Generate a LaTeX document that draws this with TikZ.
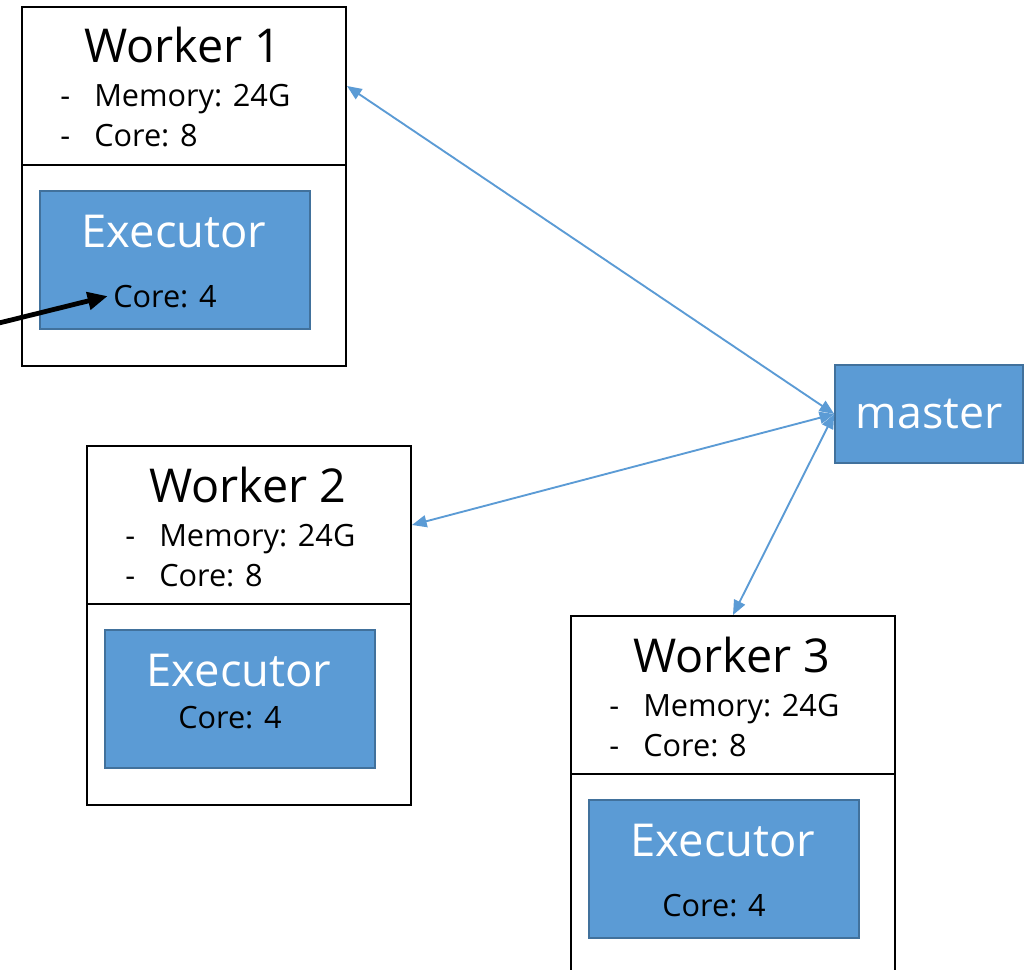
\documentclass[tikz,border=0pt]{standalone}
\usepackage{fontspec}
\setmainfont{Open Sans}
\usetikzlibrary{arrows.meta}
\definecolor{exfill}{HTML}{5B9BD5}
\definecolor{exline}{HTML}{41719C}
\definecolor{link}{HTML}{5B9BD5}
\tikzset{
  wpart/.style={draw=black, line width=1.5pt, fill=white, rectangle, inner sep=0pt, minimum width={324*0.75pt}},
  wtop/.style={wpart, minimum height={158*0.75pt}},
  wbot/.style={wpart, minimum height={201*0.75pt}},
  execbox/.style={draw=exline, line width=1.2pt, fill=exfill, rectangle, inner sep=0pt, minimum width={270*0.75pt}, minimum height={138*0.75pt}},
  titletext/.style={inner sep=0pt, font=\fontsize{35}{40}\selectfont},
  infotext/.style={inner sep=0pt, font=\fontsize{23}{28}\selectfont},
  exectext/.style={inner sep=0pt, text=white, font=\fontsize{34}{40}\selectfont},
  coretext/.style={inner sep=0pt, font=\fontsize{23}{28}\selectfont},
  masterbox/.style={draw=exline, line width=1.2pt, fill=exfill, rectangle, inner sep=0pt, minimum width={188*0.75pt}, minimum height={98*0.75pt}, text=white, font=\fontsize{33.5}{40}\selectfont},
  linkarrow/.style={draw=link, line width=1.4pt, {Triangle[length=11pt,width=9pt]}-{Triangle[length=11pt,width=9pt]}},
  pointer/.style={draw=black, line width=3.6pt, -{Triangle[length=15pt,width=13pt]}}
}
\newcommand\workerbox[4]{%
  \begin{scope}[shift={(#2,#3)}]
    \node[wtop, anchor=north west] (w#1top) at (21,6) {};
    \node[wbot, anchor=north west] (w#1bot) at (21,164) {};
    \node[execbox, anchor=north west] (w#1ex) at (39,190) {};
    \node[titletext, anchor=base] (w#1title) at (183,63) {Worker #1};
    \node[infotext, anchor=base west] (w#1d1) at (60,107) {-};
    \node[infotext, anchor=base west] (w#1mem) at (94,107) {Memory: 24G};
    \node[infotext, anchor=base west] (w#1d2) at (60,147) {-};
    \node[infotext, anchor=base west] (w#1core) at (94,147) {Core: 8};
    \node[exectext, anchor=base] (w#1extext) at (174,247) {Executor};
    \node[coretext, anchor=base west] (w#1c) at (113,#4) {Core: 4};
  \end{scope}}
\begin{document}
\begin{tikzpicture}[x=0.75pt, y=-0.75pt]
  \clip (0,0) rectangle (1035,970);
  \fill[white] (0,0) rectangle (1035,970);
  \workerbox{1}{0}{0}{307}
  \workerbox{2}{65}{439}{289}
  \workerbox{3}{549}{609}{307}
  \node[masterbox] (master) at (929,414) {master};
  \coordinate (ptrstart) at (-5,324);
  \draw[pointer] (ptrstart) -- ([xshift=-4pt]w1c.west);
  \draw[linkarrow] (master.west) -- (w1top.east);
  \draw[linkarrow] (master.west) -- (w2top.east);
  \draw[linkarrow] (master.west) -- (w3top.north);
\end{tikzpicture}
\end{document}
